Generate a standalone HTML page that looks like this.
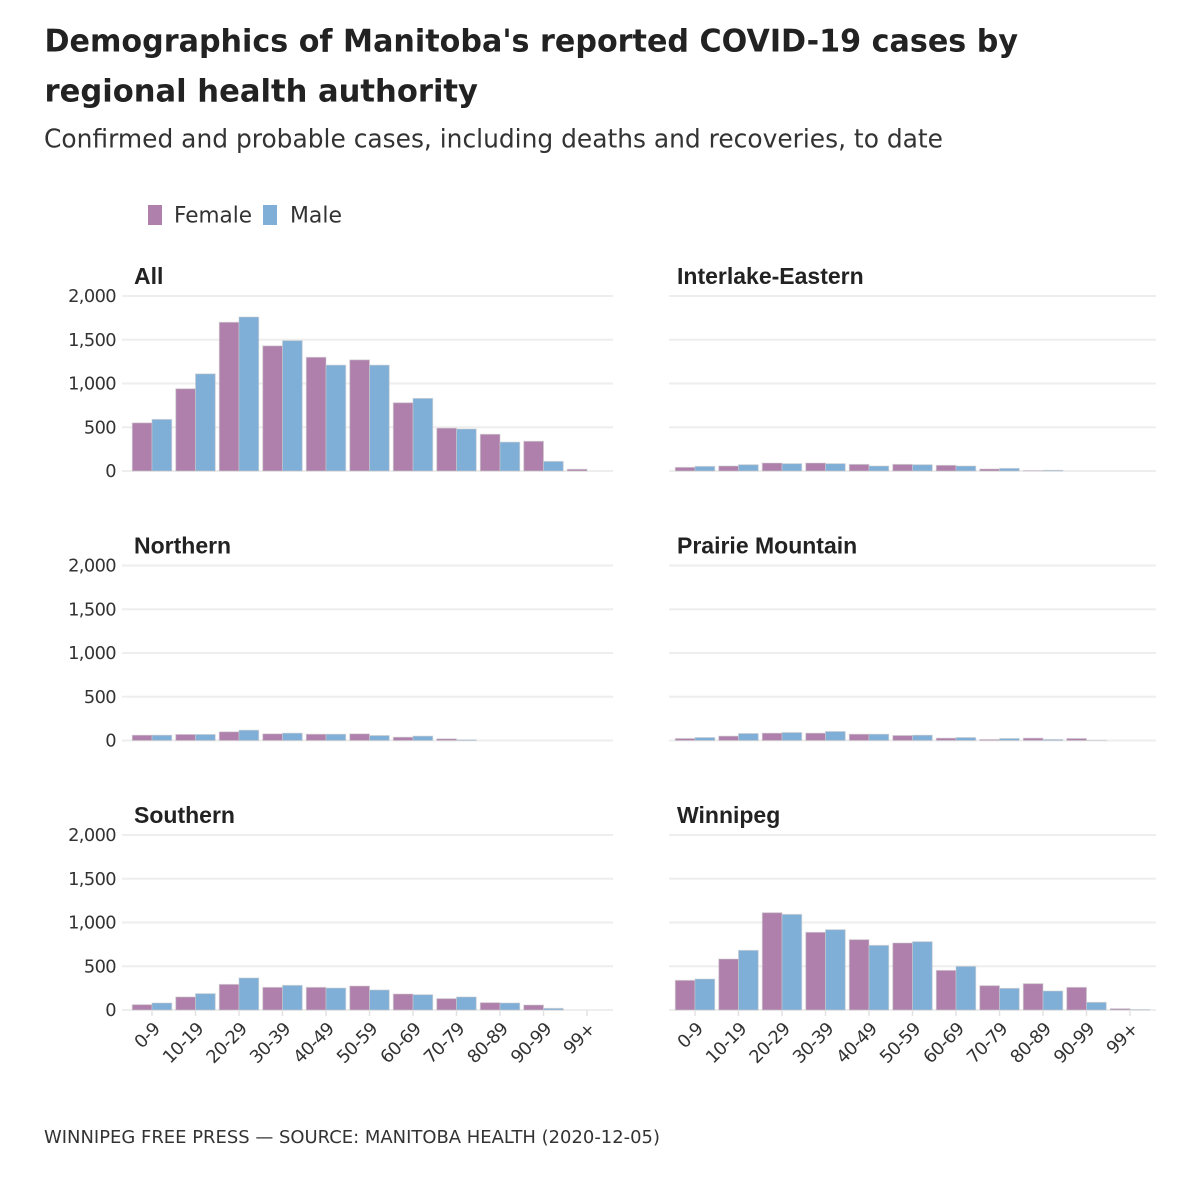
<!DOCTYPE html>
<html lang="en">
<head>
<meta charset="utf-8">
<title>Demographics of Manitoba's reported COVID-19 cases</title>
<style>
html,body{margin:0;padding:0;background:#fff;width:1200px;height:1200px;overflow:hidden}
svg{display:block}
text{font-family:"DejaVu Sans","Liberation Sans",sans-serif;fill:#333}
.title{font-weight:700;font-size:31.5px;fill:#222}
.sub{font-size:25.5px;fill:#333}
.foot{font-size:17.5px;fill:#333}
.legend{font-size:22px;fill:#333}
.tick{font-size:17.8px;letter-spacing:-0.6px;fill:#333}
.panel-title{font-family:"Liberation Sans",sans-serif;font-weight:700;font-size:23px;fill:#222}
</style>
</head>
<body>
<svg id="chart" width="1200" height="1200" viewBox="0 0 1200 1200" xmlns="http://www.w3.org/2000/svg">
  <text class="title" x="44.5" y="51.5" textLength="973.5" lengthAdjust="spacingAndGlyphs">Demographics of Manitoba's reported COVID-19 cases by</text>
  <text class="title" x="44.5" y="101.5" textLength="433.5" lengthAdjust="spacingAndGlyphs">regional health authority</text>
  <text class="sub" x="44" y="147.5" textLength="899" lengthAdjust="spacingAndGlyphs">Confirmed and probable cases, including deaths and recoveries, to date</text>
  <rect x="148" y="205" width="14" height="20" fill="#af80ab"/>
  <text class="legend" x="174" y="222.5" textLength="78" lengthAdjust="spacingAndGlyphs">Female</text>
  <rect x="263" y="205" width="14" height="20" fill="#7faed7"/>
  <text class="legend" x="290" y="222.5" textLength="52" lengthAdjust="spacingAndGlyphs">Male</text>
  <g id="panels"></g>
  <text class="foot" x="44" y="1143" textLength="616" lengthAdjust="spacingAndGlyphs">WINNIPEG FREE PRESS — SOURCE: MANITOBA HEALTH (2020-12-05)</text>
</svg>
<script>
var ageGroups = ['0-9','10-19','20-29','30-39','40-49','50-59','60-69','70-79','80-89','90-99','99+'];
var yTickValues = [0, 500, 1000, 1500, 2000];
var yTickLabels = ['0','500','1,000','1,500','2,000'];
var regionNames = ['All','Interlake-Eastern','Northern','Prairie Mountain','Southern','Winnipeg'];

var femaleAll       = [550, 940, 1700, 1430, 1300, 1270, 780, 490, 420, 340, 20];
var maleAll         = [590, 1110, 1760, 1490, 1210, 1210, 830, 480, 330, 110, 0];
var femaleInterlake = [42, 57, 91, 91, 76, 76, 65, 23, 4, 0, 0];
var maleInterlake   = [53, 72, 84, 84, 57, 72, 57, 30, 8, 0, 0];
var femaleNorthern  = [61, 69, 99, 76, 72, 76, 38, 19, 0, 0, 0];
var maleNorthern    = [61, 69, 118, 84, 72, 57, 50, 8, 0, 0, 0];
var femalePrairie   = [23, 50, 84, 84, 72, 57, 27, 12, 27, 23, 0];
var malePrairie     = [34, 80, 91, 103, 72, 61, 34, 23, 12, 2, 0];
var femaleSouthern  = [61, 149, 293, 259, 259, 274, 183, 130, 84, 57, 0];
var maleSouthern    = [80, 187, 366, 282, 251, 229, 175, 149, 80, 19, 0];
var femaleWinnipeg  = [339, 583, 1112, 888, 804, 766, 453, 278, 301, 259, 15];
var maleWinnipeg    = [354, 682, 1093, 918, 739, 781, 499, 248, 217, 88, 4];

var femaleSeries = [femaleAll, femaleInterlake, femaleNorthern, femalePrairie, femaleSouthern, femaleWinnipeg];
var maleSeries = [maleAll, maleInterlake, maleNorthern, malePrairie, maleSouthern, maleWinnipeg];

var NS = 'http://www.w3.org/2000/svg';
var root = document.getElementById('panels');
var yMax = 2000, plotH = 175, step = 43.5, barW = 19.75;
var colX = [152, 695], gridL = [126, 669], gridW = 487, rowBase = [471, 740.5, 1010];

function mk(parent, tag, attrs) {
  var el = document.createElementNS(NS, tag);
  for (var k in attrs) el.setAttribute(k, attrs[k]);
  parent.appendChild(el);
  return el;
}
function slug(s) { return s.toLowerCase().replace(/[^a-z0-9]+/g, '-'); }

regionNames.forEach(function (region, p) {
  var col = p % 2, row = Math.floor(p / 2);
  var base = rowBase[row], x0 = colX[col], gl = gridL[col];
  var yScale = function (v) { return base - v / yMax * plotH; };
  var xScale = function (i) { return x0 + i * step; };
  var g = mk(root, 'g', {});
  
  

  yTickValues.forEach(function (v, i) {
    var y = yScale(v);
    var line = mk(g, 'line', {x1: col === 0 ? gl - 4 : gl, x2: gl + gridW, y1: y, y2: y, stroke: '#eeeeee', 'stroke-width': 2});
    
    
    if (col === 0) {
      var t = mk(g, 'text', {x: 116, y: y + 6, 'text-anchor': 'end', 'class': 'tick'});
      t.textContent = yTickLabels[i];
      
      
    }
  });

  var title = mk(g, 'text', {x: gl + 8, y: base - 187, 'class': 'panel-title'});
  title.textContent = region;
  
  

  ageGroups.forEach(function (age, i) {
    var cx = xScale(i);
    var f = femaleSeries[p][i], m = maleSeries[p][i];
    var fb = mk(g, 'rect', {x: cx - barW, y: yScale(f), width: barW, height: base - yScale(f), fill: '#af80ab', stroke: '#cccccc', 'stroke-opacity': 0.55, 'stroke-width': 1});
    
    
    var mb = mk(g, 'rect', {x: cx, y: yScale(m), width: barW, height: base - yScale(m), fill: '#7faed7', stroke: '#cccccc', 'stroke-opacity': 0.55, 'stroke-width': 1});
    
    
    if (row === 2) {
      var tk = mk(g, 'line', {x1: cx, x2: cx, y1: base, y2: base + 6, stroke: '#e2e2e2', 'stroke-width': 1.5});
      
      
      var ax = cx + 9, ay = base + 20;
      var lbl = mk(g, 'text', {x: ax, y: ay, 'text-anchor': 'end', 'class': 'tick', transform: 'rotate(-45 ' + ax + ' ' + ay + ')'});
      lbl.textContent = age;
      
      
    }
  });
});
</script>
</body>
</html>
